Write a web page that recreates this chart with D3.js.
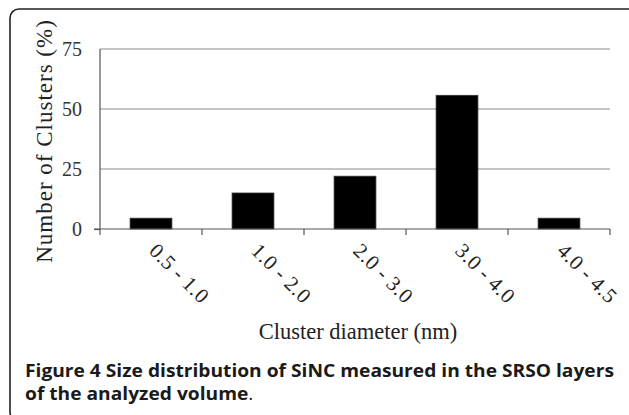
<!DOCTYPE html>
<meta charset="utf-8">
<script src="https://d3js.org/d3.v7.min.js"></script>
<style>
  body { margin: 0; background: #fff; }
</style>
<div id="my_dataviz"></div>
<script>

// data
var categories = ["0.5 - 1.0", "1.0 - 2.0", "2.0 - 3.0", "3.0 - 4.0", "4.0 - 4.5"];
var percents = [4.5, 15, 22, 55.7, 4.5];
var yTicks = [0, 25, 50, 75];

var W = 629, H = 415;
var margin = {top: 49, right: 19, bottom: 186, left: 100},
    width = W - margin.left - margin.right,
    height = H - margin.top - margin.bottom;

var serif = "'Liberation Serif', 'Times New Roman', serif";

var root = d3.select("#my_dataviz")
  .append("svg")
    .attr("width", W)
    .attr("height", H);

// rounded frame round the figure (bottom edge falls off the page)
root.append("rect")
  .attr("x", 10).attr("y", 9)
  .attr("width", 640).attr("height", 412)
  .attr("rx", 9)
  .style("fill", "none")
  .style("stroke", "#222")
  .style("stroke-width", 1.6);

var svg = root.append("g")
  .attr("transform", "translate(" + margin.left + "," + margin.top + ")");

var x = d3.scaleBand()
  .domain(categories)
  .range([0, width])
  .paddingInner(0.59)
  .paddingOuter(0.295);

var y = d3.scaleLinear()
  .domain([0, 75])
  .range([height, 0]);

// horizontal gridlines
svg.selectAll(".grid")
  .data(yTicks.filter(function(d) { return d > 0; }))
  .enter()
  .append("line")
    .attr("x1", 0)
    .attr("x2", width)
    .attr("y1", function(d) { return y(d); })
    .attr("y2", function(d) { return y(d); })
    .style("stroke", "#8a8a8a")
    .style("stroke-width", 1.2);

// bars
svg.selectAll(".bar")
  .data(percents)
  .enter()
  .append("rect")
    .attr("x", function(d, i) { return x(categories[i]); })
    .attr("width", x.bandwidth())
    .attr("y", function(d) { return y(d); })
    .attr("height", function(d) { return height - y(d); })
    .style("fill", "#000")
    .style("stroke", "#333")
    .style("stroke-width", 0.8);

// y axis
var yAxis = svg.append("g")
  .call(d3.axisLeft(y).tickValues(yTicks).tickSize(6).tickPadding(12));
yAxis.selectAll("text")
  .style("font-family", serif)
  .style("font-size", "20px")
  .style("fill", "#333");
yAxis.select(".domain").attr("d", "M0," + y(75) + "V" + height);
yAxis.selectAll(".tick line").filter(function(d) { return d > 0; }).remove();
yAxis.selectAll("line, path").style("stroke", "#555").style("stroke-width", 1.2);

// x axis: ticks at band edges
var edges = categories.map(function(c) { return x(c) - x.step() * x.paddingInner() / 2; });
edges.push(width);
svg.append("line")
  .attr("x1", -6).attr("x2", width)
  .attr("y1", height).attr("y2", height)
  .style("stroke", "#555").style("stroke-width", 1.2);
svg.selectAll(".xtick")
  .data(edges)
  .enter()
  .append("line")
    .attr("x1", function(d) { return d; })
    .attr("x2", function(d) { return d; })
    .attr("y1", height)
    .attr("y2", height + 6)
    .style("stroke", "#555").style("stroke-width", 1.2);

// rotated category labels
svg.selectAll(".xlabel")
  .data(categories)
  .enter()
  .append("text")
    .attr("transform", function(d) {
      return "translate(" + (x(d) + x.bandwidth() / 2 - 3) + "," + (height + 23) + ") rotate(45)";
    })
    .style("text-anchor", "start")
    .style("font-family", serif)
    .style("font-size", "21px")
    .style("letter-spacing", "0.5px")
    .style("fill", "#222")
    .text(function(d) { return d; });

// axis titles
root.append("text")
  .attr("transform", "translate(52,141) rotate(-90)")
  .style("text-anchor", "middle")
  .style("font-family", serif)
  .style("font-size", "23px")
  .style("letter-spacing", "1px")
  .style("fill", "#222")
  .text("Number of Clusters (%)");

root.append("text")
  .attr("x", 358)
  .attr("y", 339)
  .style("text-anchor", "middle")
  .style("font-family", serif)
  .style("font-size", "22.5px")
  .style("fill", "#222")
  .text("Cluster diameter (nm)");

// caption, widened a little to match the source image
var capX = 25, capW = 589;
var cap = root.append("g");
var line1 = cap.append("text")
  .attr("y", 377)
  .style("font-family", "'Open Sans', 'Noto Sans', sans-serif")
  .style("font-size", "17.5px")
  .style("font-weight", 700)
  .style("fill", "#1a1a1a")
  .text("Figure 4 Size distribution of SiNC measured in the SRSO layers");
var sx = capW / line1.node().getComputedTextLength();
line1.attr("transform", "translate(" + capX + ",0) scale(" + sx + ",1)");

var line2 = cap.append("text")
  .attr("y", 400)
  .attr("transform", "translate(" + capX + ",0) scale(" + sx + ",1)")
  .style("font-family", "'Open Sans', 'Noto Sans', sans-serif")
  .style("font-size", "17.5px")
  .style("fill", "#1a1a1a");
line2.append("tspan").style("font-weight", 700).text("of the analyzed volume");
line2.append("tspan").style("font-weight", 400).text(".");

</script>
